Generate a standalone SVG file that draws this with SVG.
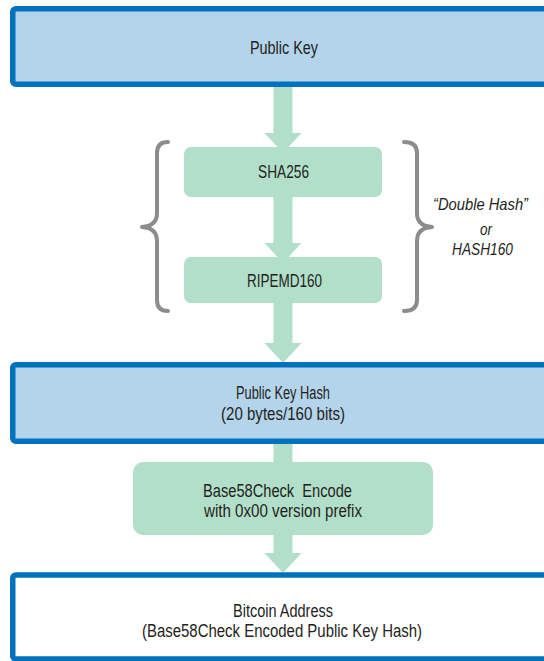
<svg xmlns="http://www.w3.org/2000/svg" width="544" height="661" viewBox="0 0 544 661">
<style>
.blue{fill:#b3d4ea;stroke:#0071bc;stroke-width:5.5}
.white{fill:#ffffff;stroke:#0071bc;stroke-width:5.5}
.green{fill:#b2dfc9}
.t{font-family:"Liberation Sans",Arial,sans-serif;font-size:18px;fill:#231f20;text-anchor:middle;white-space:pre}
.it{font-family:"Liberation Sans",Arial,sans-serif;font-size:16.5px;font-style:italic;fill:#231f20}
.brace{fill:none;stroke:#8c8c8c;stroke-width:4;stroke-linecap:round;stroke-linejoin:round}
</style>
<rect width="544" height="661" fill="#ffffff"/>
<g id="connectors">
<path class="green" d="M273.5,85 H292.5 V133 H301.5 L283,153 L264.5,133 H273.5 Z"/>
<path class="green" d="M273.5,195 H292.5 V243 H301.5 L283,263 L264.5,243 H273.5 Z"/>
<path class="green" d="M273.5,300 H292.5 V343 H301.5 L283,363 L264.5,343 H273.5 Z"/>
<path class="green" d="M273.5,440 H292.5 V465 H273.5 Z"/>
<path class="green" d="M273.5,530 H292.5 V553 H301.5 L283,573 L264.5,553 H273.5 Z"/>
</g>
<g id="public-key">
<rect class="blue" x="12.75" y="8.75" width="560" height="75.5" rx="3"/>
<text class="t" x="284" y="54" textLength="68" lengthAdjust="spacingAndGlyphs">Public Key</text>
</g>
<g id="sha256">
<rect class="green" x="184" y="147" width="198" height="50" rx="7"/>
<text class="t" x="283.5" y="178" textLength="51" lengthAdjust="spacingAndGlyphs">SHA256</text>
</g>
<g id="ripemd160">
<rect class="green" x="184" y="257" width="198" height="46" rx="7"/>
<text class="t" x="284.5" y="287" textLength="75" lengthAdjust="spacingAndGlyphs">RIPEMD160</text>
</g>
<g id="double-hash">
<path class="brace" d="M168,142 Q157,142 157,153 L157,213 Q157,226 142,227 Q157,228 157,241 L157,300 Q157,311 168,311"/>
<path class="brace" d="M404,142 Q417,142 417,153 L417,213 Q417,226 432,227 Q417,228 417,241 L417,300 Q417,311 404,311"/>
<text class="it" x="433" y="210" textLength="95" lengthAdjust="spacingAndGlyphs">“Double Hash”</text>
<text class="it" x="480" y="235" textLength="12" lengthAdjust="spacingAndGlyphs">or</text>
<text class="it" x="452" y="255" textLength="61" lengthAdjust="spacingAndGlyphs">HASH160</text>
</g>
<g id="public-key-hash">
<rect class="blue" x="12.75" y="364.75" width="560" height="76.5" rx="3"/>
<text class="t" x="283" y="399" textLength="94" lengthAdjust="spacingAndGlyphs">Public Key Hash</text>
<text class="t" x="283" y="420" textLength="124" lengthAdjust="spacingAndGlyphs">(20 bytes/160 bits)</text>
</g>
<g id="base58check">
<rect class="green" x="133" y="462" width="300" height="73" rx="10"/>
<text class="t" x="277.5" y="497" textLength="149" lengthAdjust="spacingAndGlyphs">Base58Check  Encode</text>
<text class="t" x="283" y="517" textLength="158" lengthAdjust="spacingAndGlyphs">with 0x00 version prefix</text>
</g>
<g id="bitcoin-address">
<rect class="white" x="12.75" y="575" width="560" height="84" rx="3"/>
<text class="t" x="283" y="617" textLength="100" lengthAdjust="spacingAndGlyphs">Bitcoin Address</text>
<text class="t" x="282" y="637" textLength="280" lengthAdjust="spacingAndGlyphs">(Base58Check Encoded Public Key Hash)</text>
</g>
</svg>
